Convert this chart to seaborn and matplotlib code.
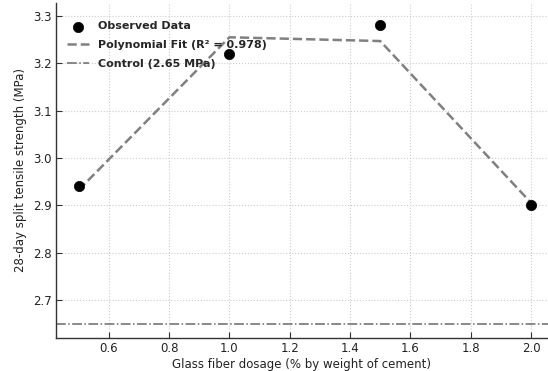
import numpy as np
import pandas as pd
import matplotlib
matplotlib.use("Agg")
import matplotlib.pyplot as plt
import seaborn as sns

dosage = [0.5, 1.0, 1.5, 2.0]
strength = [2.94, 3.22, 3.28, 2.90]
fit_values = [2.932, 3.255, 3.247, 2.905]
control_value = 2.65
fit_label = "Polynomial Fit (R² = 0.978)"
obs_label = "Observed Data"
control_label = "Control (2.65 MPa)"

df = pd.DataFrame({"dosage": dosage, "strength": strength, "fit": fit_values})

sns.set_theme(style="whitegrid")
plt.rcParams["font.family"] = ["DejaVu Sans"]

fig = plt.figure(figsize=(5.48, 3.71), dpi=100)
ax = fig.add_axes([0.102, 0.089, 0.898, 0.903])

sns.scatterplot(data=df, x="dosage", y="strength", ax=ax, color="black", s=55,
                edgecolor="black", linewidth=0.5, label=obs_label, zorder=3)
sns.lineplot(data=df, x="dosage", y="fit", ax=ax, color="gray", linestyle="--",
             linewidth=1.8, label=fit_label, zorder=2)
ax.axhline(control_value, color="dimgray", linestyle="-.", linewidth=1.1, label=control_label)

ax.set_xlim(0.425, 2.056)
ax.set_ylim(2.6195, 3.3275)
ax.set_xticks([0.6, 0.8, 1.0, 1.2, 1.4, 1.6, 1.8, 2.0])
ax.set_yticks([2.7, 2.8, 2.9, 3.0, 3.1, 3.2, 3.3])
ax.grid(True, linestyle=":", color="#cccccc", linewidth=0.8)
for s in ["top", "right"]:
    ax.spines[s].set_visible(False)
for s in ["left", "bottom"]:
    ax.spines[s].set_color("#333333")
    ax.spines[s].set_linewidth(1.0)
ax.tick_params(direction="in", length=4, width=0.8, color="#333333", labelsize=8.5,
               labelcolor="#222222", left=True, bottom=True, pad=3)
ax.set_xlabel("Glass fiber dosage (% by weight of cement)", fontsize=8.5, labelpad=2, color="#222222")
ax.set_ylabel("28-day split tensile strength (MPa)", fontsize=8.5, labelpad=4, color="#222222")

leg = ax.legend(loc="upper left", bbox_to_anchor=(0.006, 0.968), frameon=False,
                prop={"weight": "bold", "size": 8}, borderaxespad=0.3,
                handlelength=2.0, labelspacing=0.8)

fig.savefig("out.png", dpi=100)
